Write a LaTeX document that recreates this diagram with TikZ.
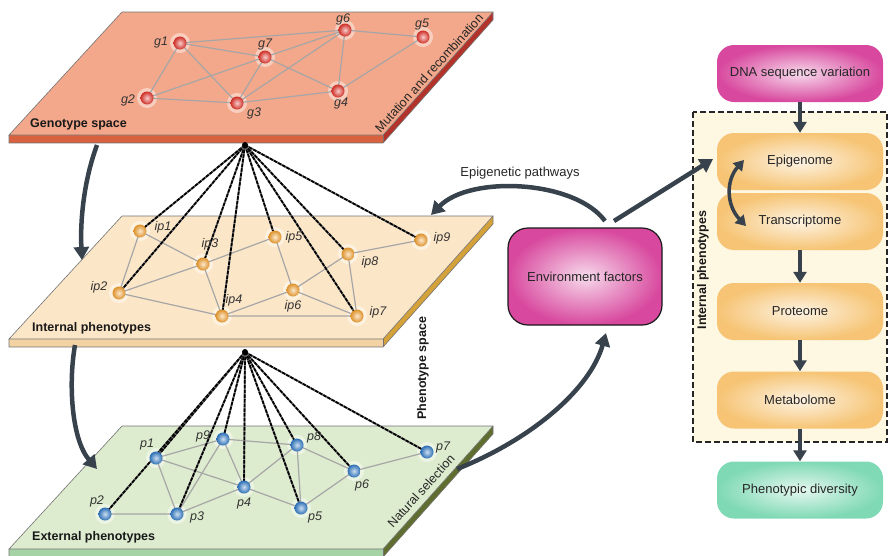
\documentclass[tikz,border=0pt]{standalone}
\usepackage{fontspec}
\setmainfont{Liberation Sans}
\usetikzlibrary{arrows.meta,shadings}
\definecolor{genoTop}{HTML}{F3A88B}
\definecolor{genoFront}{HTML}{D8613F}
\definecolor{genoSide}{HTML}{B3332A}
\definecolor{intTop}{HTML}{FCE6C8}
\definecolor{intFront}{HTML}{F3D3A3}
\definecolor{intSide}{HTML}{D5A23A}
\definecolor{extTop}{HTML}{DDEBCF}
\definecolor{extFront}{HTML}{A6D3A5}
\definecolor{extSide}{HTML}{5F6D2F}
\definecolor{arrowcol}{HTML}{37424C}
\definecolor{magentabox}{HTML}{D8489E}
\definecolor{orangebox}{HTML}{F6C474}
\definecolor{greenbox}{HTML}{7FD9B4}
\definecolor{creambox}{HTML}{FEF7E2}
\definecolor{redball}{HTML}{E0322A}
\definecolor{orangeball}{HTML}{F09E2E}
\definecolor{blueball}{HTML}{2F78C4}
\newcommand\myplane[4]{%
\begin{scope}[shift={(0,#1)}]
\fill[#3] (9,123) -- (383,123) -- (383,131) -- (9,131) -- cycle;
\fill[#4] (383,123) -- (493,0) -- (493,8) -- (383,131) -- cycle;
\fill[#2] (122,0) -- (493,0) -- (383,123) -- (9,123) -- cycle;
\draw[planeline] (122,0) -- (493,0) -- (383,123) -- (9,123) -- cycle;
\draw[planeline] (9,123) -- (9,131) -- (383,131) -- (493,8) -- (493,0);
\draw[planeline] (383,123) -- (383,131);
\end{scope}}
\begin{document}
\begin{tikzpicture}[x=1pt,y=-1pt,
  planeline/.style={draw=black!55,line width=0.6pt},
  sph/.style={circle,minimum size=13pt,inner sep=0pt,shading=radial,inner color=#1!25!white,outer color=#1!92!black},
  halo/.style={fill=white,opacity=0.45},
  nl/.style={font=\fontsize{12.5}{12}\selectfont\itshape,text=black!80,inner sep=0pt},
  gedge/.style={draw=black!35,line width=1.2pt},
  dline/.style={draw=black,line width=1.7pt,dash pattern=on 3.5pt off 1.2pt},
  dback/.style={draw=black!55,line width=1.9pt},
  plab/.style={font=\fontsize{12.5}{14}\selectfont\bfseries,text=black!90,inner sep=0pt},
  rlab/.style={font=\fontsize{12.5}{14}\selectfont,text=black!85,inner sep=0pt},
  bigarrow/.style={draw=arrowcol,line width=4.5pt,-{Triangle[length=13pt,width=15pt]}},
  rbox/.style={rounded corners=17pt,minimum width=166pt,minimum height=57pt,inner sep=0pt,
    font=\fontsize{13}{14}\selectfont,text=black!85,shading=radial,inner color=#1!20!white,outer color=#1},
]
\useasboundingbox (0,0) rectangle (890,555);
\clip (0,0) rectangle (890,555);

% ---------- planes ----------
\myplane{12}{genoTop}{genoFront}{genoSide}
\myplane{216}{intTop}{intFront}{intSide}
\myplane{426}{extTop}{extFront}{extSide}

% ---------- genotype network ----------
\coordinate (cg1) at (180,43);
\coordinate (cg7) at (265,57);
\coordinate (cg6) at (345,30);
\coordinate (cg5) at (423,37);
\coordinate (cg2) at (147,98);
\coordinate (cg3) at (237,103);
\coordinate (cg4) at (338,91);
\foreach \t in {cg1,cg2,cg3,cg4,cg5,cg6,cg7}{\fill[halo] (\t) circle (10pt);}
\draw[gedge] (cg1)--(cg6) (cg1)--(cg7) (cg1)--(cg2) (cg1)--(cg3) (cg2)--(cg7) (cg2)--(cg3)
  (cg7)--(cg6) (cg7)--(cg3) (cg7)--(cg4) (cg3)--(cg6) (cg3)--(cg4) (cg6)--(cg4) (cg6)--(cg5) (cg4)--(cg5);
\node[sph=redball] (g1) at (cg1) {};
\node[sph=redball] (g7) at (cg7) {};
\node[sph=redball] (g6) at (cg6) {};
\node[sph=redball] (g5) at (cg5) {};
\node[sph=redball] (g2) at (cg2) {};
\node[sph=redball] (g3) at (cg3) {};
\node[sph=redball] (g4) at (cg4) {};
\node[nl] (lg1) at (161,42) {g1};
\node[nl] (lg7) at (265,44) {g7};
\node[nl] (lg6) at (343,19) {g6};
\node[nl] (lg5) at (422,24) {g5};
\node[nl] (lg2) at (128,100) {g2};
\node[nl] (lg3) at (254,113) {g3};
\node[nl] (lg4) at (341,103) {g4};
\node[plab,anchor=west] (gsp) at (30,124) {Genotype space};
\node[rlab,rotate=48] (mut) at (429,73) {Mutation and recombination};

% ---------- internal network ----------
\coordinate (cip1) at (140,231);
\coordinate (cip3) at (203,264);
\coordinate (cip5) at (275,237);
\coordinate (cip9) at (421,240);
\coordinate (cip8) at (348,254);
\coordinate (cip2) at (119,293);
\coordinate (cip6) at (293,290);
\coordinate (cip4) at (222,316);
\coordinate (cip7) at (357,316);
\foreach \t in {cip1,cip2,cip3,cip4,cip5,cip6,cip7,cip8,cip9}{\fill[halo] (\t) circle (10pt);}
\draw[gedge] (cip1)--(cip2) (cip1)--(cip3) (cip2)--(cip3) (cip2)--(cip4) (cip3)--(cip5) (cip3)--(cip4)
  (cip4)--(cip6) (cip4)--(cip7) (cip5)--(cip6) (cip6)--(cip8) (cip6)--(cip7) (cip8)--(cip9) (cip8)--(cip7);
\coordinate (apexI) at (245,145);
\foreach \t in {cip1,cip2,cip3,cip4,cip5,cip7,cip8,cip9}{
  \draw[dback] (apexI) -- (\t);
  \draw[dline] (apexI) -- (\t);
}
\node[sph=orangeball] (ip1) at (cip1) {};
\node[sph=orangeball] (ip2) at (cip2) {};
\node[sph=orangeball] (ip3) at (cip3) {};
\node[sph=orangeball] (ip4) at (cip4) {};
\node[sph=orangeball] (ip5) at (cip5) {};
\node[sph=orangeball] (ip6) at (cip6) {};
\node[sph=orangeball] (ip7) at (cip7) {};
\node[sph=orangeball] (ip8) at (cip8) {};
\node[sph=orangeball] (ip9) at (cip9) {};
\fill[black] (apexI) circle (3pt);
\node[nl] (lip1) at (163,227) {ip1};
\node[nl] (lip3) at (210,244) {ip3};
\node[nl] (lip5) at (294,237) {ip5};
\node[nl] (lip9) at (442,238) {ip9};
\node[nl] (lip8) at (370,262) {ip8};
\node[nl] (lip6) at (293,306) {ip6};
\node[nl] (lip4) at (234,300) {ip4};
\node[nl] (lip7) at (378,312) {ip7};
\node[nl] (lip2) at (99,287) {ip2};
\node[plab,anchor=west] (isp) at (32,328) {Internal phenotypes};

% ---------- external network ----------
\coordinate (cp1) at (156,458);
\coordinate (cp9) at (223,439);
\coordinate (cp8) at (297,445);
\coordinate (cp7) at (427,452);
\coordinate (cp6) at (354,471);
\coordinate (cp4) at (244,487);
\coordinate (cp5) at (301,508);
\coordinate (cp3) at (177,514);
\coordinate (cp2) at (105,514);
\foreach \t in {cp1,cp2,cp3,cp4,cp5,cp6,cp7,cp8,cp9}{\fill[halo] (\t) circle (10pt);}
\draw[gedge] (cp1)--(cp9) (cp1)--(cp3) (cp1)--(cp4) (cp2)--(cp3) (cp3)--(cp9) (cp9)--(cp4) (cp9)--(cp8)
  (cp3)--(cp4) (cp4)--(cp8) (cp4)--(cp5) (cp8)--(cp5) (cp8)--(cp6) (cp6)--(cp5) (cp6)--(cp7);
\coordinate (apexE) at (245,352);
\foreach \t in {cp1,cp2,cp3,cp4,cp5,cp6,cp7,cp8,cp9}{
  \draw[dback] (apexE) -- (\t);
  \draw[dline] (apexE) -- (\t);
}
\node[sph=blueball] (p1) at (cp1) {};
\node[sph=blueball] (p2) at (cp2) {};
\node[sph=blueball] (p3) at (cp3) {};
\node[sph=blueball] (p4) at (cp4) {};
\node[sph=blueball] (p5) at (cp5) {};
\node[sph=blueball] (p6) at (cp6) {};
\node[sph=blueball] (p7) at (cp7) {};
\node[sph=blueball] (p8) at (cp8) {};
\node[sph=blueball] (p9) at (cp9) {};
\fill[black] (apexE) circle (3pt);
\node[nl] (lp1) at (147,444) {p1};
\node[nl] (lp9) at (203,436) {p9};
\node[nl] (lp8) at (314,437) {p8};
\node[nl] (lp7) at (443,447) {p7};
\node[nl] (lp6) at (362,485) {p6};
\node[nl] (lp4) at (244,503) {p4};
\node[nl] (lp5) at (315,517) {p5};
\node[nl] (lp3) at (197,517) {p3};
\node[nl] (lp2) at (97,501) {p2};
\node[plab,anchor=west] (esp) at (32,537) {External phenotypes};
\node[rlab,rotate=48] (nat) at (421,491) {Natural selection};
\node[plab,rotate=90] (psp) at (423,368) {Phenotype space};

% ---------- left arrows ----------
\coordinate (a1s) at (97,145);
\coordinate (a1e) at (82,260);
\draw[bigarrow] (a1s) .. controls (84,180) and (80,220) .. (a1e);
\coordinate (a2s) at (75,345);
\coordinate (a2e) at (97,469);
\draw[bigarrow] (a2s) .. controls (68,385) and (72,440) .. (a2e);

% ---------- right column ----------
\fill[creambox] (693,112) rectangle (887,442);
\draw[black!85,line width=1.6pt,dash pattern=on 6pt off 3pt] (693,112) rectangle (887,442);
\node[plab,rotate=90] (iph) at (703,270) {Internal phenotypes};

\node[rbox=magentabox] (dna) at (800,73.5) {DNA sequence variation};
\node[rbox=orangebox] (epi) at (800,161.5) {Epigenome};
\node[rbox=orangebox] (tra) at (800,221.5) {Transcriptome};
\node[rbox=orangebox] (pro) at (800,311.5) {Proteome};
\node[rbox=orangebox] (met) at (800,400) {Metabolome};
\node[rbox=greenbox] (phd) at (800,490) {Phenotypic diversity};

\tikzset{smallarrow/.style={draw=arrowcol,line width=4pt,-{Triangle[length=11pt,width=13pt]}}}
\draw[smallarrow] (dna.south) -- (epi.north);
\draw[smallarrow] (tra.south) -- (pro.north);
\draw[smallarrow] (pro.south) -- (met.north);
\draw[smallarrow] (met.south) -- (phd.north);
\coordinate (de1) at (744,160);
\coordinate (de2) at (746,226);
\draw[draw=arrowcol,line width=3.5pt,{Triangle[length=10pt,width=12pt]}-{Triangle[length=10pt,width=12pt]}]
  (de1) .. controls (726,180) and (726,205) .. (de2);

% ---------- environment ----------
\node[rounded corners=20pt,minimum width=154pt,minimum height=97pt,inner sep=0pt,draw=black!90,line width=1.2pt,
  shading=radial,inner color=magentabox!20!white,outer color=magentabox,
  font=\fontsize{13}{14}\selectfont,text=black!85] (env) at (585,276.5) {Environment factors};
\node[rlab,font=\fontsize{13}{14}\selectfont] (epl) at (520,173) {Epigenetic pathways};

\coordinate (e1s) at (605,221);
\coordinate (e1e) at (431,215);
\draw[bigarrow] (e1s) .. controls (575,180) and (470,175) .. (e1e);
\coordinate (e2s) at (614,221);
\coordinate (e2e) at (713,159);
\draw[bigarrow] (e2s) -- (e2e);
\coordinate (nss) at (457,469);
\coordinate (nse) at (606,333);
\draw[bigarrow] (nss) .. controls (530,440) and (590,390) .. (nse);
\end{tikzpicture}
\end{document}
